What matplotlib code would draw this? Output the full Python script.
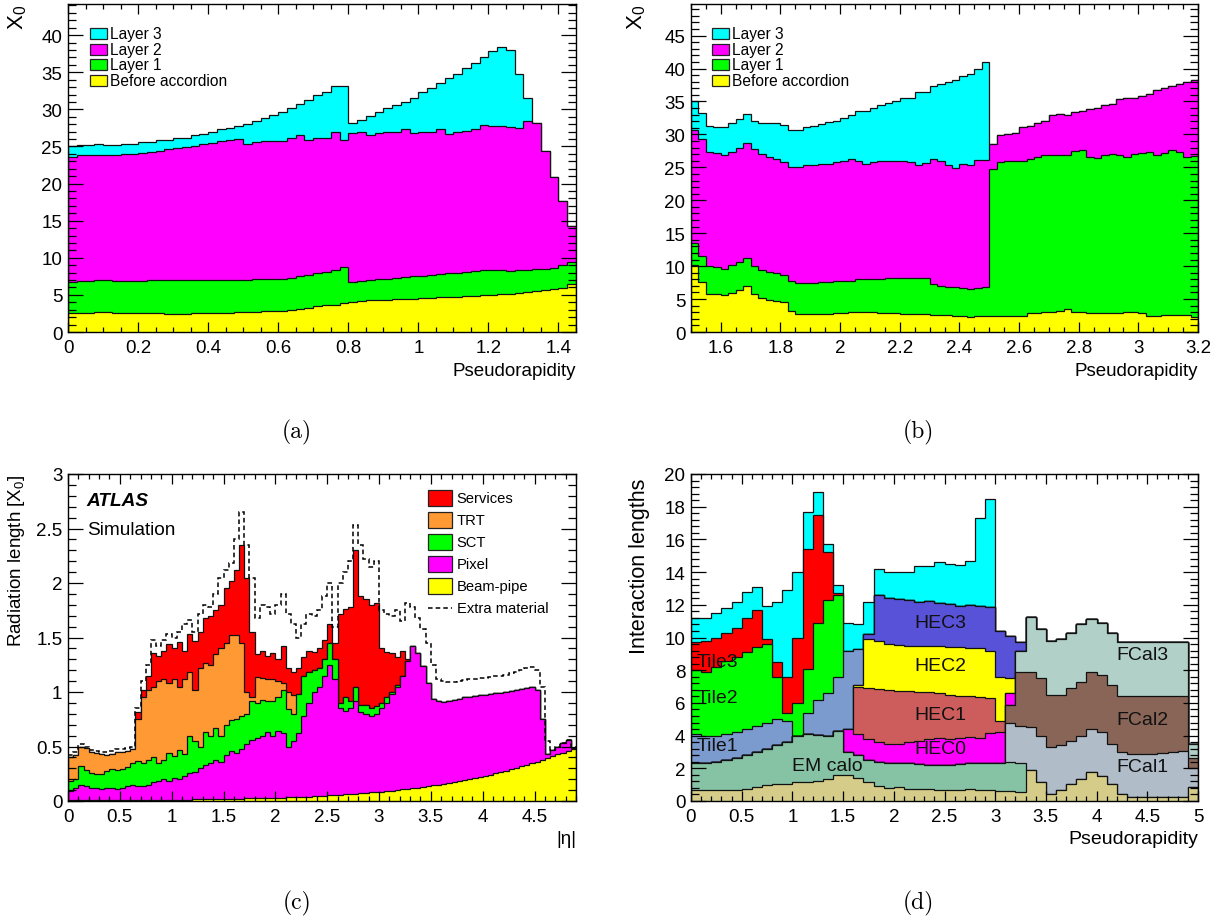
import matplotlib
matplotlib.use("Agg")
import matplotlib.pyplot as plt
import numpy as np
from matplotlib.patches import Rectangle
from matplotlib.lines import Line2D
from matplotlib.ticker import FuncFormatter, MultipleLocator

plt.rcParams["font.family"] = ["Liberation Sans", "DejaVu Sans"]
plt.rcParams["mathtext.fontset"] = "custom"
plt.rcParams["mathtext.rm"] = "Liberation Sans"
plt.rcParams["mathtext.it"] = "Liberation Sans:italic"

W, H = 1225, 920
NA = None

# ---------------- (a) barrel EM calorimeter, X0 (cumulative tops, 0.025 bins) ----------------
a_layer3 = [25.0, 25.2, 25.2, 25.3, 25.2, 25.2, 25.4, 25.4, 25.6, 25.6,
            25.9, 25.9, 26.2, 26.2, 26.5, 26.7, 27.0, 27.3, 27.5, 27.8,
            28.0, 28.4, 28.9, 29.2, 29.7, 30.2, 30.7, 31.3, 31.9, 32.4,
            33.1, 33.1, 28.2, 28.6, 29.1, 29.6, 30.2, 30.6, 31.0, 31.6,
            32.3, 32.9, 33.5, 34.2, 34.7, 35.6, 36.2, 37.1, 37.8, 38.4,
            38.0, 34.8, 31.6, NA, NA, NA, NA, NA]
a_layer2 = [23.6, 23.9, 23.9, 23.9, 23.8, 23.8, 24.0, 24.0, 24.1, 24.3,
            24.4, 24.6, 24.8, 24.9, 25.1, 25.3, 25.5, 25.7, 25.9, 26.0,
            25.3, 25.6, 25.8, 25.8, 25.7, 26.1, 26.5, 25.9, 26.2, 26.2,
            26.9, 25.9, 26.8, 27.0, 26.5, 26.8, 26.9, 27.0, 27.4, 26.8,
            26.9, 27.0, 27.4, 26.7, 26.9, 27.1, 27.4, 27.9, 27.8, 27.8,
            27.6, 27.5, 28.4, 28.2, 24.4, 20.9, 17.6, 14.3]
a_layer1 = [6.8, 6.85, 6.9, 7.0, 7.0, 6.9, 6.9, 6.9, 6.9, 6.95,
            6.95, 6.95, 7.0, 7.0, 7.0, 7.0, 7.0, 7.0, 6.95, 7.0,
            7.05, 7.1, 7.1, 7.15, 7.2, 7.3, 7.5, 7.7, 7.9, 8.1,
            8.3, 8.7, 6.8, 6.9, 7.0, 7.1, 7.2, 7.3, 7.4, 7.5,
            7.6, 7.7, 7.8, 7.9, 8.0, 8.1, 8.2, 8.3, 8.35, 8.3,
            8.25, 8.3, 8.35, 8.5, 8.55, 8.6, 9.0, 9.4]
a_before = [2.55, 2.55, 2.6, 2.7, 2.7, 2.6, 2.55, 2.55, 2.55, 2.5,
            2.5, 2.45, 2.45, 2.45, 2.5, 2.55, 2.6, 2.6, 2.6, 2.65,
            2.7, 2.75, 2.8, 2.8, 2.85, 2.95, 3.1, 3.3, 3.45, 3.6,
            3.7, 3.85, 4.1, 4.2, 4.25, 4.3, 4.35, 4.4, 4.45, 4.5,
            4.55, 4.6, 4.65, 4.7, 4.75, 4.8, 4.9, 5.0, 5.05, 5.1,
            5.15, 5.25, 5.4, 5.55, 5.7, 5.75, 5.9, 6.5]

# ---------------- (b) end-cap EM calorimeter, X0 ----------------
b_layer3 = [35.0, 33.2, 31.3, 31.2, 31.1, 31.7, 32.4, 33.1, 32.0, 31.7,
            31.7, 31.7, 31.5, 30.7, 30.7, 31.2, 31.3, 31.6, 31.9, 32.1,
            32.5, 33.0, 33.6, 33.6, 34.0, 34.4, 34.7, 35.0, 35.5, 35.6,
            36.4, 36.4, 37.3, 37.7, 37.9, 38.3, 38.8, 39.2, 40.0, 41.0] + [NA] * 28
b_layer2 = [30.7, 29.3, 27.3, 27.2, 26.9, 27.4, 27.9, 28.7, 27.8, 27.0,
            26.5, 26.3, 25.8, 25.0, 25.0, 25.3, 25.4, 25.5, 25.5, 25.8,
            25.9, 26.2, 25.9, 25.5, 25.8, 25.9, 25.9, 26.0, 26.0, 25.8,
            25.4, 25.6, 26.2, 26.0, 25.4, 24.9, 25.5, 25.3, 26.1, 26.1,
            28.5, 29.9, 30.1, 30.2, 31.1, 31.3, 31.7, 32.0, 32.9, 33.1,
            33.0, 33.4, 33.6, 33.9, 34.0, 34.5, 34.6, 35.4, 35.5, 35.6,
            35.9, 36.1, 36.7, 37.0, 37.4, 37.7, 37.9, 38.2]
b_layer1 = [13.5, 11.6, 10.0, 9.9, 9.6, 10.1, 10.6, 11.2, 10.0, 9.35,
            9.1, 9.0, 8.6, 7.8, 7.4, 7.5, 7.5, 7.6, 7.6, 7.7,
            7.7, 7.8, 8.0, 8.0, 8.1, 8.1, 8.2, 8.2, 8.2, 8.2,
            8.2, 8.2, 7.3, 7.0, 6.8, 6.8, 6.7, 6.6, 6.7, 6.8,
            24.8, 25.8, 25.9, 26.0, 25.9, 26.3, 26.5, 26.8, 26.9, 26.9,
            26.8, 27.5, 27.7, 26.6, 26.4, 26.9, 27.0, 26.8, 26.5, 27.0,
            27.2, 27.3, 26.9, 27.2, 27.6, 27.4, 26.5, 26.7]
b_before = [10.1, 7.6, 5.8, 5.7, 5.6, 5.9, 6.4, 7.0, 5.7, 5.2,
            4.8, 4.7, 4.55, 3.2, 2.8, 2.8, 2.8, 2.8, 2.8, 2.85,
            2.9, 3.0, 3.05, 3.0, 3.0, 2.95, 2.95, 2.85, 2.8, 2.75,
            2.7, 2.7, 2.65, 2.6, 2.55, 2.5, 2.4, 2.35, 2.4, 2.45,
            2.5, 2.45, 2.4, 2.4, 2.45, 2.9, 2.95, 3.0, 3.0, 3.2,
            3.5, 3.1, 3.0, 2.95, 2.9, 2.9, 2.9, 2.95, 3.0, 3.0,
            2.85, 2.5, 2.5, 2.55, 2.55, 2.55, 2.55, 2.3]
layer_names = ["Layer 3", "Layer 2", "Layer 1", "Before accordion"]
layer_colors = ["#00ffff", "#ff00ff", "#00ff00", "#ffff00"]

# ---------------- (c) inner detector, radiation length (0.05 bins) ----------------
c_beampipe = [0.005, 0.005, 0.005, 0.005, 0.005, 0.006, 0.006, 0.006, 0.006, 0.007,
              0.007, 0.007, 0.008, 0.008, 0.008, 0.009, 0.009, 0.010, 0.010, 0.011,
              0.011, 0.012, 0.012, 0.013, 0.014, 0.014, 0.015, 0.016, 0.017, 0.018,
              0.019, 0.020, 0.021, 0.022, 0.023, 0.024, 0.025, 0.026, 0.028, 0.029,
              0.030, 0.032, 0.033, 0.035, 0.037, 0.039, 0.041, 0.043, 0.046, 0.049,
              0.052, 0.055, 0.058, 0.061, 0.064, 0.067, 0.071, 0.075, 0.079, 0.083,
              0.087, 0.091, 0.096, 0.101, 0.106, 0.111, 0.117, 0.123, 0.129, 0.136,
              0.143, 0.150, 0.158, 0.166, 0.174, 0.183, 0.192, 0.201, 0.211, 0.221,
              0.231, 0.242, 0.253, 0.265, 0.277, 0.290, 0.303, 0.317, 0.331, 0.346,
              0.361, 0.377, 0.393, 0.410, 0.427, 0.444, 0.460, 0.475]
c_pixel = [0.09, 0.12, 0.15, 0.14, 0.12, 0.12, 0.11, 0.12, 0.12, 0.11,
           0.12, 0.14, 0.15, 0.14, 0.14, 0.15, 0.17, 0.18, 0.20, 0.18,
           0.21, 0.20, 0.23, 0.26, 0.27, 0.30, 0.33, 0.35, 0.38, 0.36,
           0.42, 0.46, 0.44, 0.48, 0.52, 0.56, 0.58, 0.60, 0.63, 0.60,
           0.64, 0.62, 0.50, 0.55, 0.62, 0.78, 0.90, 1.00, 1.05, 1.15,
           1.25, 1.12, 0.85, 0.83, 0.85, 0.92, 0.82, 0.80, 0.78, 0.80,
           0.85, 0.90, 0.98, 1.05, 1.15, 1.28, 1.42, 1.36, 1.24, 1.08,
           0.94, 0.92, 0.91, 0.92, 0.93, 0.94, 0.95, 0.95, 0.96, 0.97,
           0.97, 0.98, 0.99, 0.99, 1.00, 1.01, 1.02, 1.03, 1.04, 1.05,
           1.02, 0.75, 0.43, 0.47, 0.50, 0.53, 0.56, 0.49]
c_sct = [0.18, 0.20, 0.32, 0.28, 0.26, 0.245, 0.25, 0.275, 0.29, 0.28,
         0.29, 0.31, 0.35, 0.37, 0.35, 0.38, 0.40, 0.35, 0.38, 0.44,
         0.41, 0.47, 0.43, 0.60, 0.55, 0.50, 0.63, 0.60, 0.67, 0.60,
         0.70, 0.74, 0.75, 0.78, 0.80, 0.92, 0.90, 0.93, 0.92, 0.92,
         0.95, 1.02, 0.84, 0.80, 0.98, 1.15, 1.18, 1.20, 1.22, 1.30,
         1.45, 1.30, 0.90, 0.95, 0.92, 1.05, 0.88, 0.88, 0.85, 0.87,
         0.90, 0.95, 1.00, 1.06] + [NA] * 34
c_trt = [0.40, 0.42, 0.50, 0.49, 0.45, 0.44, 0.43, 0.42, 0.43, 0.45,
         0.45, 0.46, 0.48, 0.75, 0.95, 1.02, 1.05, 1.10, 1.12, 1.08,
         1.12, 1.05, 1.12, 1.18, 1.02, 1.22, 1.27, 1.25, 1.35, 1.40,
         1.45, 1.52, 1.52, 1.45, 1.00, 0.95, 1.14, 1.13, 1.12, 1.12,
         1.10, 1.08, 1.00, 0.97] + [NA] * 54
c_services = [NA] * 13 + [
    0.82, 1.02, 1.15, 1.36, 1.33, 1.38, 1.44, 1.40, 1.46, 1.38,
    1.53, 1.47, 1.55, 1.68, 1.70, 1.75, 1.80, 1.95, 2.02, 2.12,
    2.35, 2.05, 1.55, 1.35, 1.38, 1.33, 1.36, 1.30, 1.42, 1.22,
    1.18, 1.22, 1.32, 1.38, 1.37, 1.40, 1.48, 1.62, 1.45, 1.72,
    1.76, 1.78, 2.30, 1.88, 1.85, 1.80, 1.82, 1.40, 1.37, 1.36,
    1.32, 1.38, 1.30, 1.42] + [NA] * 31
c_extra = [0.42, 0.45, 0.52, 0.50, 0.47, 0.46, 0.45, 0.45, 0.46, 0.48,
           0.48, 0.49, 0.50, 0.85, 1.10, 1.25, 1.48, 1.42, 1.48, 1.53,
           1.50, 1.55, 1.62, 1.66, 1.55, 1.72, 1.80, 1.78, 1.90, 2.05,
           2.12, 2.18, 2.40, 2.65, 2.35, 2.05, 1.68, 1.80, 1.78, 1.72,
           1.80, 1.90, 1.72, 1.62, 1.50, 1.62, 1.72, 1.70, 1.75, 1.88,
           2.00, 1.60, 2.00, 2.10, 2.20, 2.53, 2.35, 2.22, 2.15, 2.20,
           1.75, 1.72, 1.70, 1.75, 1.65, 1.82, 1.78, 1.68, 1.58, 1.45,
           1.25, 1.12, 1.10, 1.09, 1.09, 1.10, 1.11, 1.12, 1.12, 1.13,
           1.13, 1.14, 1.15, 1.15, 1.16, 1.17, 1.18, 1.20, 1.22, 1.23,
           1.20, 1.05, 0.55, 0.47, 0.50, 0.53, 0.56, 0.50]
id_names = ["Services", "TRT", "SCT", "Pixel", "Beam-pipe"]
id_colors = ["#ff0000", "#ff9933", "#00ff00", "#ff00ff", "#ffff00"]

# ---------------- (d) calorimeters, interaction lengths (0.1 bins, stacking order) ----------------
d_dead = [0.65, 0.65, 0.65, 0.65, 0.65, 0.75, 0.85, 0.95, 1.05, 1.05,
          1.15, 1.15, 1.25, 1.35, 1.6, 1.6, 1.4, 1.15, 0.9, 0.8,
          0.85, 0.75, 0.75, 0.75, 0.7, 0.65, 0.7, 0.75, 0.7, 0.7,
          0.6, 0.6, 0.55, 1.9, 1.15, 0.45, 0.65, 1.05, 1.35, 1.75,
          1.55, 1.05, 0.45, 0.25, 0.25, 0.25, 0.25, 0.25, 0.25, 0.85]
d_em = [2.3, 2.3, 2.4, 2.5, 2.6, 2.8, 3.0, 3.2, 3.4, 3.6,
        4.0, 4.1, 4.05, 4.0, 4.3, 3.0, 2.8, 2.5, 2.4, 2.3,
        2.3, 2.3, 2.25, 2.2, 2.2, 2.2, 2.25, 2.3, 2.3, 2.3,
        2.3, 2.4, 2.3] + [NA] * 17
d_fcal1 = [NA] * 31 + [4.8, 4.6, 4.5, 4.0, 3.3, 3.45, 3.7, 4.0, 4.4,
                       4.2, 3.5, 3.0, 2.9, 2.9, 2.9, 2.95, 3.0, 3.05, 2.0]
d_fcal2 = [NA] * 31 + [5.9, 7.9, 7.9, 7.5, 6.5, 6.5, 6.9, 7.3, 7.9,
                       7.7, 7.1, 6.4, 6.4, 6.4, 6.4, 6.4, 6.4, 6.4, 2.6]
d_fcal3 = [NA] * 32 + [9.2, 11.25, 10.5, 9.8, 9.9, 10.3, 10.8, 11.15,
                       10.9, 10.3, 9.75, 9.7, 9.7, 9.7, 9.75, 9.7, 9.7, 3.5]
d_hec0 = [NA] * 15 + [4.4, 4.1, 3.8, 3.6, 3.5, 3.5, 3.6, 3.7, 3.8, 3.85,
                      3.8, 3.85, 3.9, 3.85, 4.15, 4.2, 6.6] + [NA] * 18
d_hec1 = [NA] * 16 + [7.0, 6.9, 6.85, 6.8, 6.75, 6.7, 6.65, 6.65, 6.6,
                      6.5, 6.45, 6.4, 6.35, 6.3, 4.9] + [NA] * 19
d_hec2 = [NA] * 16 + [7.1, 9.9, 9.8, 9.6, 9.55, 9.5, 9.5, 9.45, 9.5,
                      9.4, 9.4, 9.35, 9.35, 9.2, 7.6, 7.55] + [NA] * 18
d_hec3 = [NA] * 17 + [10.2, 12.6, 12.4, 12.35, 12.3, 12.2, 12.25, 12.1,
                      12.05, 11.9, 12.0, 11.95, 11.85, 10.4, 10.1, 9.7] + [NA] * 17
d_tile1 = [4.1, 3.95, 4.0, 4.1, 4.2, 4.4, 4.6, 4.8, 5.0, 4.9,
           NA, 5.4, 6.2, 6.6, 7.6, 9.2, 9.3] + [NA] * 33
d_tile2 = [8.0, 7.9, 8.2, 8.55, 8.8, 9.1, 9.4, 9.6, 7.6, 5.4,
           6.0, 8.1, 10.9, 12.3, 12.6] + [NA] * 35
d_tile3 = [9.7, 9.8, 10.0, 10.3, 10.6, 11.2, 11.7, 9.9, 8.5, 7.6,
           10.0, 15.4, 17.5, 15.2, 12.7] + [NA] * 35
d_rest = [11.2, 11.2, 11.5, 11.8, 12.2, 12.8, 13.1, 11.9, 12.2, 12.9,
          14.0, 17.7, 18.9, 15.7, 13.2, 10.9, 10.8, 12.2, 14.2, 14.0,
          14.0, 14.0, 14.4, 14.4, 14.6, 14.5, 14.45, 14.7, 17.3, 18.5] + [NA] * 20
calo_layers = [d_dead, d_em, d_fcal1, d_fcal2, d_fcal3, d_hec0, d_hec1, d_hec2,
               d_hec3, d_tile1, d_tile2, d_tile3, d_rest]
calo_colors = ["#d4cc88", "#86c2a4", "#b0bcc8", "#886557", "#b0d0c8", "#ff00ff",
               "#cd5c5c", "#ffff00", "#5852d8", "#7b9ace", "#00ff00", "#ff0000",
               "#00ffff"]
calo_labels = [("Tile3", 0.06, 8.55, "left"), ("Tile2", 0.06, 6.36, "left"),
               ("Tile1", 0.06, 3.38, "left"), ("EM calo", 1.34, 2.2, "center"),
               ("HEC3", 2.46, 10.9, "center"), ("HEC2", 2.46, 8.26, "center"),
               ("HEC1", 2.46, 5.32, "center"), ("HEC0", 2.46, 3.24, "center"),
               ("FCal3", 4.45, 8.93, "center"), ("FCal2", 4.45, 4.97, "center"),
               ("FCal1", 4.45, 2.08, "center")]


def stack_tops(layers):
    """Cumulative tops; a missing value means the layer adds nothing there."""
    tops = []
    below = np.zeros(len(layers[0]))
    for vals in layers:
        below = np.fmax(below, np.array(vals, dtype=float))
        tops.append(below)
    return tops


def draw_stack(ax, edges, tops, colors):
    # outermost first, like a ROOT THStack drawn from 0
    for top, col in reversed(list(zip(tops, colors))):
        ax.stairs(top, edges, baseline=0, fill=True, facecolor=col,
                  edgecolor="#111111", linewidth=0.9)


def add_axes(fig, x0, y0, x1, y1):
    return fig.add_axes([x0 / W, 1 - y1 / H, (x1 - x0) / W, (y1 - y0) / H])


def root_style(ax, xlim, ylim, xstep, nx, ystep, ny):
    ax.set_xlim(*xlim)
    ax.set_ylim(*ylim)
    ax.xaxis.set_major_locator(MultipleLocator(xstep))
    ax.xaxis.set_minor_locator(MultipleLocator(xstep / nx))
    ax.yaxis.set_major_locator(MultipleLocator(ystep))
    ax.yaxis.set_minor_locator(MultipleLocator(ystep / ny))
    fmt = FuncFormatter(lambda v, _: f"{v:g}")
    ax.xaxis.set_major_formatter(fmt)
    ax.yaxis.set_major_formatter(fmt)
    ax.tick_params(which="both", direction="in", top=True, right=True,
                   labelsize=13.5, width=0.9)
    ax.tick_params(axis="x", which="major", length=7, pad=5)
    ax.tick_params(axis="x", which="minor", length=3.5)
    ax.tick_params(axis="y", which="major", length=11, pad=4)
    ax.tick_params(axis="y", which="minor", length=5.5)
    for sp in ax.spines.values():
        sp.set_linewidth(1.0)


def box_legend(ax, names, colors, x0, y0, dy, w, h, tx, fs):
    for k, (name, col) in enumerate(zip(names, colors)):
        yc = y0 - k * dy
        ax.add_patch(Rectangle((x0, yc - h / 2), w, h, transform=ax.transAxes,
                               facecolor=col, edgecolor="#222222", lw=0.9, zorder=5))
        ax.text(tx, yc, name, transform=ax.transAxes, fontsize=fs,
                va="center", ha="left", zorder=5)


fig = plt.figure(figsize=(W / 100, H / 100), dpi=100)

# (a)
ax = add_axes(fig, 68, 5, 576, 333)
edges = np.linspace(0, 1.45, len(a_before) + 1)
draw_stack(ax, edges, stack_tops([a_before, a_layer1, a_layer2, a_layer3]), layer_colors[::-1])
root_style(ax, (0, 1.45), (0, 44.2), 0.2, 4, 5, 5)
ax.set_xlabel("Pseudorapidity", loc="right", fontsize=13.5, labelpad=4)
ax.set_ylabel("X$_0$", loc="top", fontsize=16)
ax.yaxis.set_label_coords(-0.077, 1.0)
box_legend(ax, layer_names, layer_colors, 0.043, 0.909, 0.047, 0.033, 0.0335, 0.083, 11.2)

# (b)
ax = add_axes(fig, 691, 5, 1198, 333)
edges = np.linspace(1.5, 3.2, len(b_before) + 1)
draw_stack(ax, edges, stack_tops([b_before, b_layer1, b_layer2, b_layer3]), layer_colors[::-1])
root_style(ax, (1.5, 3.2), (0, 49.8), 0.2, 4, 5, 5)
ax.set_xlabel("Pseudorapidity", loc="right", fontsize=13.5, labelpad=4)
ax.set_ylabel("X$_0$", loc="top", fontsize=16)
ax.yaxis.set_label_coords(-0.085, 1.0)
box_legend(ax, layer_names, layer_colors, 0.041, 0.909, 0.047, 0.033, 0.0335, 0.081, 11.2)

# (c)
ax = add_axes(fig, 68, 475, 576, 802)
edges = np.linspace(0, 4.9, len(c_pixel) + 1)
tops = stack_tops([c_beampipe, c_pixel, c_sct, c_trt, c_services])
draw_stack(ax, edges, tops, id_colors[::-1])
ax.stairs(c_extra, edges, baseline=None, color="black", linestyle=(0, (3, 2)), linewidth=1.1)
root_style(ax, (0, 4.9), (0, 3), 0.5, 5, 0.5, 5)
ax.set_xlabel("|η|", loc="right", fontsize=13.5, labelpad=4)
ax.set_ylabel("Radiation length [X$_0$]", loc="top", fontsize=13.5)
ax.yaxis.set_label_coords(-0.081, 1.0)
ax.text(0.037, 0.918, "ATLAS", transform=ax.transAxes, fontsize=13.7,
        fontweight="bold", fontstyle="italic", va="center")
ax.text(0.037, 0.829, "Simulation", transform=ax.transAxes, fontsize=13.7, va="center")
box_legend(ax, id_names, id_colors, 0.709, 0.9275, 0.0673, 0.047, 0.049, 0.765, 10.6)
yl = 0.9275 - 5 * 0.0673
ax.add_line(Line2D([0.709, 0.756], [yl, yl], transform=ax.transAxes, color="black",
                   linestyle=(0, (3, 2)), lw=1.1, zorder=5))
ax.text(0.765, yl, "Extra material", transform=ax.transAxes, fontsize=10.6,
        va="center", ha="left", zorder=5)

# (d)
ax = add_axes(fig, 691, 475, 1198, 802)
edges = np.linspace(0, 5, len(d_dead) + 1)
draw_stack(ax, edges, stack_tops(calo_layers), calo_colors)
root_style(ax, (0, 5), (0, 20), 0.5, 5, 2, 5)
ax.set_xlabel("Pseudorapidity", loc="right", fontsize=14, labelpad=4)
ax.set_ylabel("Interaction lengths", loc="top", fontsize=15.5)
ax.yaxis.set_label_coords(-0.081, 0.99)
for text, x, y, ha in calo_labels:
    ax.text(x, y, text, fontsize=14, ha=ha, va="center", color="#111111", zorder=4)

for label, x, y in [("(a)", 297, 432), ("(b)", 918, 432), ("(c)", 297, 903), ("(d)", 918, 903)]:
    fig.text(x / W, 1 - y / H, label, fontsize=17, family="cmr10", ha="center", va="center")

fig.savefig("out.png", dpi=100, facecolor="white")
